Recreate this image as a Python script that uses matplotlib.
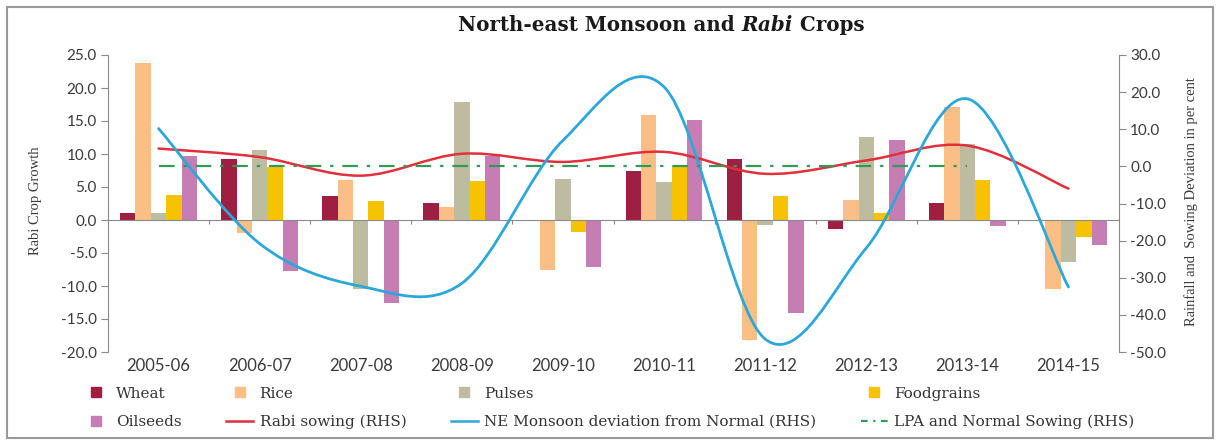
import numpy as np
import matplotlib
matplotlib.use("Agg")
import matplotlib.pyplot as plt
from matplotlib.path import Path
from matplotlib.patches import PathPatch, Rectangle
from matplotlib.lines import Line2D
import matplotlib.ticker as mticker

# ---------------- data ----------------
years = ["2005-06", "2006-07", "2007-08", "2008-09", "2009-10",
         "2010-11", "2011-12", "2012-13", "2013-14", "2014-15"]
wheat = [1.1, 9.2, 3.6, 2.6, 0.0, 7.5, 9.2, -1.4, 2.6, 0.0]
rice = [23.8, -1.9, 6.0, 2.0, -7.6, 15.9, -18.2, 3.1, 17.1, -10.5]
pulses = [1.1, 10.6, -10.5, 17.9, 6.2, 5.7, -0.8, 12.6, 11.5, -6.4]
foodgrains = [3.8, 8.0, 2.9, 5.9, -1.8, 8.2, 3.6, 1.0, 6.0, -2.6]
oilseeds = [9.7, -7.8, -12.5, 9.7, -7.1, 15.2, -14.1, 12.1, -0.9, -3.8]
rabi_sowing = [4.8, 2.5, -2.5, 3.4, 1.2, 3.9, -2.0, 1.6, 5.6, -6.0]
ne_monsoon = [10.2, -20.8, -32.3, -31.5, 7.0, 21.4, -46.5, -22.0, 18.2, -32.5]
lpa_normal = [0, 0, 0, 0, 0, 0, 0, 0, 0, np.nan]

bar_series = [("Wheat", wheat, "#9E1F42"),
              ("Rice", rice, "#FBBF86"),
              ("Pulses", pulses, "#BEBCA0"),
              ("Foodgrains", foodgrains, "#F7C300"),
              ("Oilseeds", oilseeds, "#C67DB4")]

RED = "#E0303C"
BLUE = "#2CA8D8"
GREEN = "#2E9B57"
GREY = "#8A8A8A"
SERIF = ["DejaVu Serif"]
NARROW_SERIF = ["Liberation Serif"]
SANS = ["Lato"]

W, H = 1217, 441
fig = plt.figure(figsize=(W / 100, H / 100), dpi=100)
L, R, T, B = 108, 1119, 55, 352
ax = fig.add_axes([L / W, 1 - B / H, (R - L) / W, (B - T) / H])
ax2 = ax.twinx()

x = np.arange(len(years))
bw = 0.152
for k, (name, vals, col) in enumerate(bar_series):
    ax.bar(x + (k - 2) * bw, vals, width=bw, color=col, zorder=2, linewidth=0)

ax.set_xlim(-0.5, len(years) - 0.5)
ax.set_ylim(-20, 25)
ax.set_yticks(np.arange(-20, 25.1, 5))
ax.yaxis.set_major_formatter(mticker.FormatStrFormatter("%.1f"))
ax2.set_ylim(-50, 30)
ax2.set_yticks(np.arange(-50, 30.1, 10))
ax2.yaxis.set_major_formatter(mticker.FormatStrFormatter("%.1f"))


def smooth_path(xs, ys):
    xs = np.asarray(xs, float)
    ys = np.asarray(ys, float)
    n = len(xs)
    verts = [(xs[0], ys[0])]
    codes = [Path.MOVETO]
    for i in range(n - 1):
        i0 = max(i - 1, 0)
        i3 = min(i + 2, n - 1)
        c1 = (xs[i] + (xs[i + 1] - xs[i0]) / 6, ys[i] + (ys[i + 1] - ys[i0]) / 6)
        c2 = (xs[i + 1] - (xs[i3] - xs[i]) / 6, ys[i + 1] - (ys[i3] - ys[i]) / 6)
        verts += [c1, c2, (xs[i + 1], ys[i + 1])]
        codes += [Path.CURVE4] * 3
    return Path(verts, codes)


ax2.add_patch(PathPatch(smooth_path(x, rabi_sowing), fill=False, edgecolor=RED,
                        lw=1.8, zorder=3, capstyle="round"))
ax2.add_patch(PathPatch(smooth_path(x, ne_monsoon), fill=False, edgecolor=BLUE,
                        lw=2.0, zorder=3, capstyle="round"))
ax2.plot(x, lpa_normal, color=GREEN, lw=1.6, dashes=(7, 4, 1.5, 4), zorder=3)

# spines & ticks
for a in (ax, ax2):
    a.spines["top"].set_visible(False)
ax.spines["right"].set_visible(False)
ax2.spines["left"].set_visible(False)
ax2.spines["bottom"].set_visible(False)
ax.spines["left"].set_color(GREY)
ax2.spines["right"].set_color(GREY)
ax.spines["bottom"].set_position(("data", 0))
ax.spines["bottom"].set_color(GREY)
ax.set_xticks(np.arange(0.5, len(years) - 1, 1))
ax.tick_params(axis="x", length=3, color=GREY, labelbottom=False)
ax.tick_params(axis="y", length=5, color=GREY, labelsize=11, labelcolor="#3a3a3a", pad=3)
ax2.tick_params(axis="y", length=5, color=GREY, labelsize=11, labelcolor="#3a3a3a", pad=3)
for lab in ax.get_yticklabels() + ax2.get_yticklabels():
    lab.set_family(SANS)

secx = ax.secondary_xaxis("bottom")
secx.set_xticks(x, years)
secx.spines["bottom"].set_visible(False)
secx.tick_params(length=0, pad=4, labelsize=12, labelcolor="#3a3a3a")
for lab in secx.get_xticklabels():
    lab.set_family(SANS)

ax.set_ylabel("Rabi Crop Growth", family=NARROW_SERIF, fontsize=10.5, color="#3a3a3a")
ax.yaxis.label.set(va="center", ha="center")
ax.yaxis.set_label_coords((35 - L) / (R - L), 0.508)
ax2.set_ylabel("Rainfall and  Sowing Deviation in per cent", family=NARROW_SERIF,
               fontsize=10.5, color="#3a3a3a", rotation=90)
ax2.yaxis.label.set(va="center", ha="center")
ax2.yaxis.set_label_coords((1191 - L) / (R - L), 0.505)

# title with italic "Rabi"
renderer = fig.canvas.get_renderer()
parts = [("North-east Monsoon and ", "normal"), ("Rabi", "italic"), (" Crops", "normal")]
texts = []
for s, st in parts:
    t = fig.text(0, 1 - 25 / H, s, family=SERIF, fontsize=14.3, weight="bold",
                 style=st, va="center", ha="left", color="#1a1a1a")
    texts.append(t)
widths = [t.get_window_extent(renderer).width for t in texts]
xpos = 661 - sum(widths) / 2
for t, w in zip(texts, widths):
    t.set_x(xpos / W)
    xpos += w

# legend
def sq(c):
    return Line2D([], [], marker="s", linestyle="none", markersize=7,
                  markerfacecolor=c, markeredgecolor=c)

h_wheat, h_rice, h_pulses, h_food, h_oil = [sq(c) for _, _, c in bar_series]
h_rabi = Line2D([], [], color=RED, lw=1.8)
h_ne = Line2D([], [], color=BLUE, lw=1.8)
h_lpa = Line2D([], [], color=GREEN, lw=1.6, dashes=(3, 2.5, 1, 2.5))
handles = [h_wheat, h_oil, h_rice, h_rabi, h_pulses, h_ne, h_food, h_lpa]
labels = ["Wheat", "Oilseeds", "Rice", "Rabi sowing (RHS)", "Pulses",
          "NE Monsoon deviation from Normal (RHS)", "Foodgrains",
          "LPA and Normal Sowing (RHS)"]
fig.legend(handles, labels, ncol=4, loc="center", bbox_to_anchor=(0.5, 1 - 408 / H),
           frameon=False, prop={"family": SERIF, "size": 11}, labelcolor="#333333",
           handlelength=1.8, handletextpad=0.4, columnspacing=2.9, labelspacing=0.95,
           borderpad=0, borderaxespad=0)

# outer border
fig.patches.append(Rectangle((7 / W, 3 / H), (1213 - 7) / W, (438 - 7) / H,
                             transform=fig.transFigure, fill=False,
                             edgecolor="#9a9a9a", lw=1.5, zorder=0))

fig.savefig("out.png", dpi=100)
